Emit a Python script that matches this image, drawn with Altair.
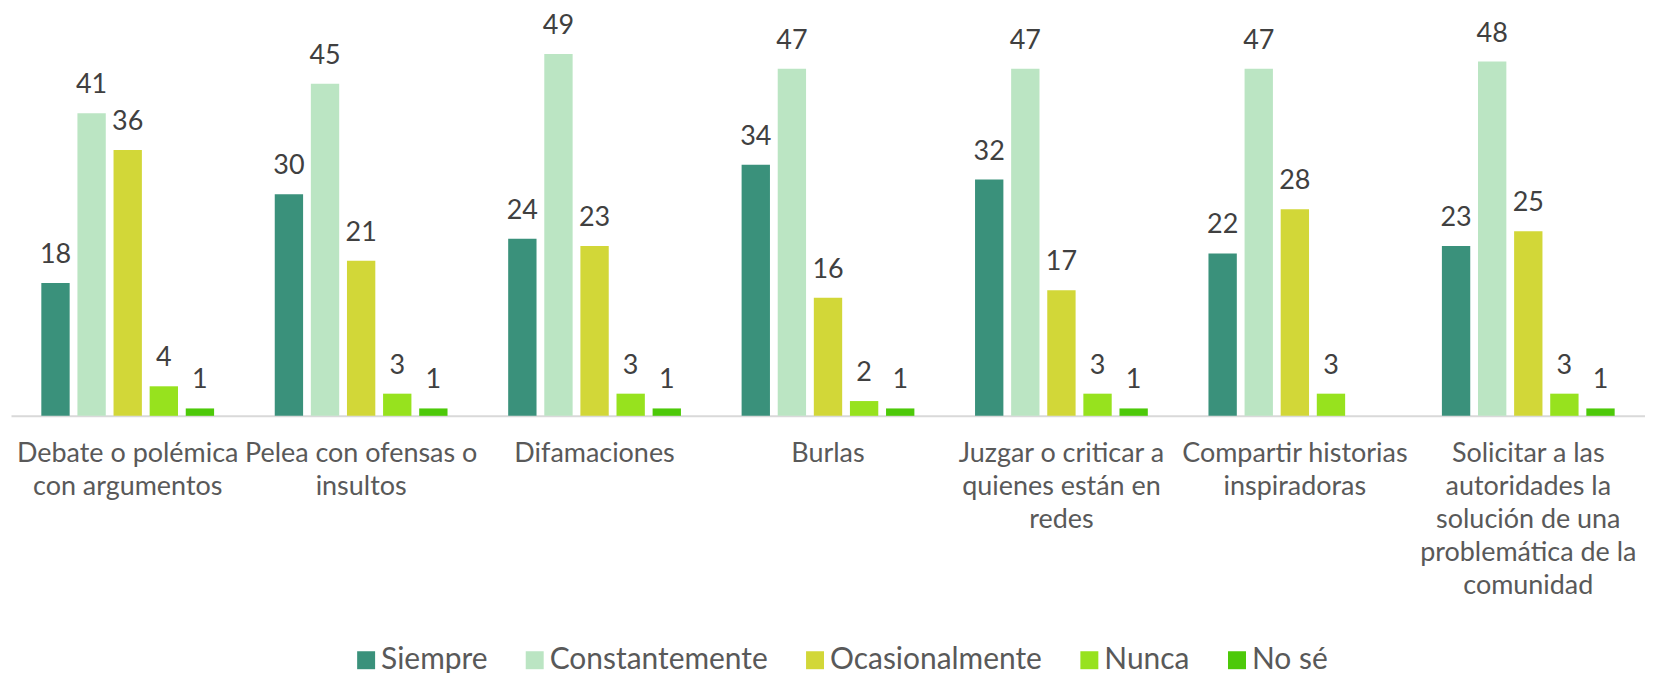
import altair as alt
import pandas as pd

categories = [
    "Debate o polémica con argumentos",
    "Pelea con ofensas o insultos",
    "Difamaciones",
    "Burlas",
    "Juzgar o criticar a quienes están en redes",
    "Compartir historias inspiradoras",
    "Solicitar a las autoridades la solución de una problemática de la comunidad",
]
category_lines = [
    ["Debate o polémica", "con argumentos"],
    ["Pelea con ofensas o", "insultos"],
    ["Difamaciones"],
    ["Burlas"],
    ["Juzgar o criticar a", "quienes están en", "redes"],
    ["Compartir historias", "inspiradoras"],
    ["Solicitar a las", "autoridades la", "solución de una", "problemática de la", "comunidad"],
]
series_names = ["Siempre", "Constantemente", "Ocasionalmente", "Nunca", "No sé"]
siempre = [18, 30, 24, 34, 32, 22, 23]
constantemente = [41, 45, 49, 47, 47, 47, 48]
ocasionalmente = [36, 21, 23, 16, 17, 28, 25]
nunca = [4, 3, 3, 2, 3, 3, 3]
no_se = [1, 1, 1, 1, 1, None, 1]
colors = ["#3A917B", "#BBE5C3", "#D2D738", "#97E21E", "#4DC909"]

series_values = [siempre, constantemente, ocasionalmente, nunca, no_se]
rows = []
for name, vals in zip(series_names, series_values):
    for cat, v in zip(categories, vals):
        if v is not None:
            rows.append({"categoria": cat, "serie": name, "valor": v})
df = pd.DataFrame(rows)

def js_str(s):
    return "'" + s.replace("'", "\\'") + "'"

cats_js = "[" + ",".join(js_str(c) for c in categories) + "]"
lines_js = "[" + ",".join("[" + ",".join(js_str(l) for l in ls) + "]" for ls in category_lines) + "]"
label_expr = f"{lines_js}[indexof({cats_js}, datum.label)]"

FONT = "Lato"

x_enc = alt.X(
    "categoria:N",
    sort=categories,
    scale=alt.Scale(paddingInner=0, paddingOuter=0),
    axis=alt.Axis(
        title=None,
        labelAngle=0,
        labelExpr=label_expr,
        labelFont=FONT,
        labelFontSize=27,
        labelColor="#595959",
        labelLineHeight=33,
        labelPadding=25,
        labelBaseline="top",
        ticks=False,
        domain=True,
        domainColor="#D9D9D9",
        domainWidth=2,
        labelLimit=400,
    ),
)
xoff_enc = alt.XOffset(
    "serie:N",
    sort=series_names,
    scale=alt.Scale(domain=series_names, paddingInner=0.215, paddingOuter=0.84),
)
y_enc = alt.Y(
    "valor:Q",
    scale=alt.Scale(domain=[0, 50], nice=False),
    axis=None,
)

bars = alt.Chart(df).mark_bar().encode(
    x=x_enc,
    xOffset=xoff_enc,
    y=y_enc,
    color=alt.Color(
        "serie:N",
        sort=series_names,
        scale=alt.Scale(domain=series_names, range=colors),
        legend=alt.Legend(
            title=None,
            orient="none",
            direction="horizontal",
            legendX=341,
            legendY=600,
            symbolType="square",
            symbolSize=324,
            symbolStrokeWidth=0,
            labelFont=FONT,
            labelFontSize=30,
            labelColor="#595959",
            labelOffset=0,
            columnPadding=32,
            labelLimit=400,
        ),
    ),
)

labels = alt.Chart(df).mark_text(
    baseline="alphabetic",
    align="center",
    dy=-20,
    font=FONT,
    fontSize=27,
    color="#404040",
).encode(
    x=x_enc,
    xOffset=xoff_enc,
    y=y_enc,
    text=alt.Text("valor:Q"),
)

chart = (
    alt.layer(bars, labels)
    .properties(
        width=1638,
        height=370,
        autosize=alt.AutoSizeParams(type="none"),
        padding={"left": 3, "top": 38, "right": 0, "bottom": 262},
    )
    .configure_view(stroke=None)
)

chart.save("out.html", embed_options={"renderer": "svg", "actions": False})
